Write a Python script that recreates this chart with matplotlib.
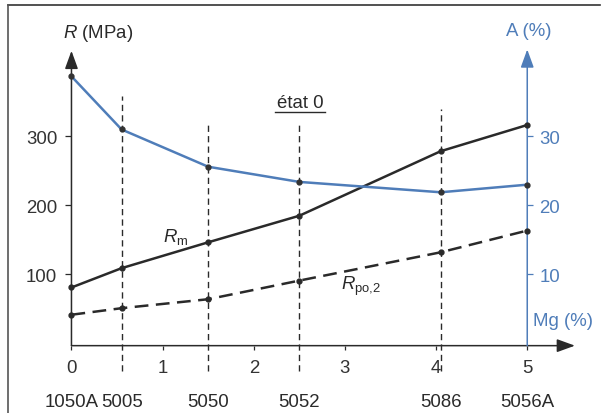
import matplotlib
matplotlib.use("Agg")
import matplotlib.pyplot as plt
from matplotlib.lines import Line2D

plt.rcParams['font.family'] = ['Liberation Sans', 'DejaVu Sans']
plt.rcParams['mathtext.fontset'] = 'custom'
plt.rcParams['mathtext.rm'] = 'Liberation Sans'
plt.rcParams['mathtext.it'] = 'Liberation Sans:italic'

# Données (teneur en Mg en %)
mg = [0, 0.55, 1.5, 2.5, 4.05, 5]
alliages = ["1050A", "5005", "5050", "5052", "5086", "5056A"]
rm = [81, 109, 146.5, 185, 278.5, 316.5]          # MPa
rp02 = [41.5, 51, 64, 91, 132, 163.5]             # MPa
allongement = [38.7, 31.0, 25.6, 23.4, 21.9, 23.0]  # %

r_ticks = [100, 200, 300]
a_ticks = [10, 20, 30]
mg_ticks = [0, 1, 2, 3, 4, 5]

NOIR = "#2a2a2a"
BLEU = "#4f7db9"
TAILLE = 13.4
Y_AXE = -3.3  # position de l'axe des abscisses

fig = plt.figure(figsize=(6.03, 4.14), dpi=100)
ax = fig.add_axes([0, 0, 1, 1])
ax.set_xlim(-0.784, 5.831)
ax.set_ylim(-100.9, 499.1)
ax.patch.set_alpha(0)

ax2 = ax.twinx()
ax2.set_ylim(-10.09, 49.91)
ax2.patch.set_alpha(0)

for s in ax.spines.values():
    s.set_visible(False)
for s in ax2.spines.values():
    s.set_visible(False)
ax.spines["left"].set_position(("data", 0))
ax.spines["bottom"].set_position(("data", Y_AXE))
ax2.spines["right"].set_position(("data", 5))

ax.set_xticks(mg_ticks)
ax.set_xticklabels([str(v) for v in mg_ticks])
ax.set_yticks(r_ticks)
ax.set_yticklabels([str(v) for v in r_ticks])
ax.tick_params(axis="y", direction="out", length=4.3, width=0.9, color=NOIR,
               labelcolor="#333333", labelsize=TAILLE, pad=6)
ax.tick_params(axis="x", direction="out", length=3, width=0.9, color=NOIR,
               labelcolor="#333333", labelsize=TAILLE, pad=6.5)
ax2.set_yticks(a_ticks)
ax2.set_yticklabels([str(v) for v in a_ticks])
ax2.tick_params(axis="y", direction="out", length=4.3, width=0.9, color=BLEU,
                labelcolor=BLEU, labelsize=TAILLE, pad=4.5)

# axes fléchés
fleche = "-|>,head_length=1.1,head_width=0.4"
ax.annotate("", xy=(0, 424), xytext=(0, Y_AXE),
            arrowprops=dict(arrowstyle=fleche, color=NOIR, lw=1.1,
                            shrinkA=0, shrinkB=0, mutation_scale=10))
ax.annotate("", xy=(5.523, Y_AXE), xytext=(0, Y_AXE),
            arrowprops=dict(arrowstyle=fleche, color=NOIR, lw=1.1,
                            shrinkA=0, shrinkB=0, mutation_scale=10))
ax.annotate("", xy=(5, 426), xytext=(5, Y_AXE),
            arrowprops=dict(arrowstyle=fleche, color=BLEU, lw=1.1,
                            shrinkA=0, shrinkB=0, mutation_scale=10))

# repères verticaux des alliages
ax.vlines(mg[1:5], -40, [359, 322, 322, 340], colors=NOIR,
          linestyles=(0, (4.5, 3)), lw=1)

# courbes
ax2.plot(mg, allongement, color=BLEU, lw=1.8, zorder=3)
ax2.plot(mg, allongement, "o", ms=3.5, color="#333333", zorder=4)
ax.plot(mg, rm, color=NOIR, lw=1.8, marker="o", ms=3.5, zorder=5)
ax.plot(mg, rp02, color=NOIR, lw=1.8, dashes=(5.5, 3), marker="o", ms=3.5, zorder=5)

# textes
ax.text(-0.097, 450.9, "$R$ (MPa)", ha="left", va="center", fontsize=TAILLE, color=NOIR)
ax.text(5.02, 452.8, "A (%)", ha="center", va="center", fontsize=TAILLE, color=BLEU)
ax.text(5.06, 32.9, "Mg (%)", ha="left", va="center", fontsize=TAILLE, color=BLEU)
ax.text(2.51, 348.4, "état 0", ha="center", va="center", fontsize=TAILLE, color=NOIR)
ax.plot([2.232, 2.78], [335, 335], color=NOIR, lw=1)
ax.text(1.004, 156, r"$R_\mathrm{m}$", ha="left", va="center", fontsize=TAILLE, color=NOIR)
ax.text(2.953, 83.6, r"$R_\mathrm{po{,}2}$", ha="left", va="center", fontsize=TAILLE, color=NOIR)

for x, nom in zip(mg, alliages):
    ax.text(x, -84.5, nom, ha="center", va="center", fontsize=TAILLE, color=NOIR)

# cadre de la figure
fig.add_artist(Line2D([8 / 603, 600 / 603], [1 - 6 / 414, 1 - 6 / 414],
                      transform=fig.transFigure, color="#333333", lw=1.2))
fig.add_artist(Line2D([8 / 603, 8 / 603], [0, 1 - 6 / 414],
                      transform=fig.transFigure, color="#555555", lw=1.2))

fig.savefig("out.png", dpi=100)
